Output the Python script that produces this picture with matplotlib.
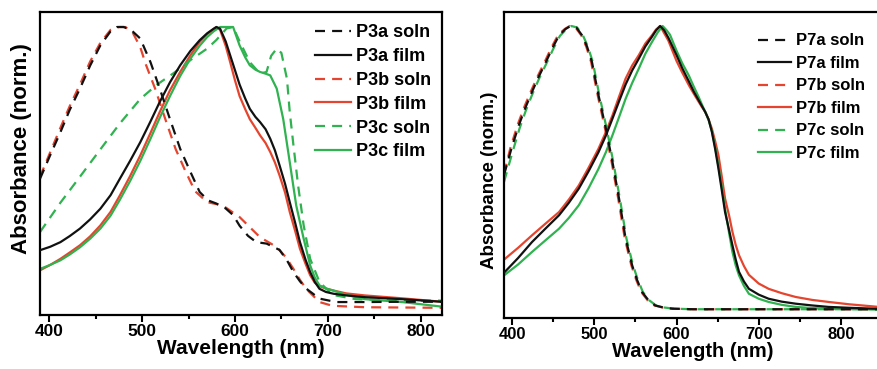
import matplotlib
matplotlib.use("Agg")
import matplotlib.pyplot as plt
from matplotlib.ticker import MultipleLocator

plt.rcParams['font.family'] = ['Liberation Sans', 'DejaVu Sans']
plt.rcParams['font.weight'] = 'bold'

BLACK = '#111111'
RED = '#e5452e'
GREEN = '#2fb24f'

# ---- left panel: P3 series (wavelength nm, normalized absorbance)
p3a_soln_nm = [390, 401, 412, 422, 433, 444, 455, 466, 473, 480, 488, 498, 509, 519, 530,
               541, 552, 562, 571, 580, 590, 598, 605, 614, 623, 634, 648, 656, 663, 670,
               677, 691, 709, 740, 780, 823]
p3a_soln = [0.473, 0.555, 0.635, 0.712, 0.786, 0.866, 0.936, 0.985, 1.0, 1.0, 0.99, 0.96,
            0.878, 0.786, 0.68, 0.577, 0.497, 0.427, 0.398, 0.387, 0.37, 0.347, 0.31,
            0.275, 0.253, 0.248, 0.226, 0.19, 0.149, 0.117, 0.091, 0.057, 0.045, 0.045,
            0.046, 0.046]

p3b_soln_nm = [390, 401, 412, 422, 433, 444, 455, 466, 475, 482, 490, 498, 504, 514, 525,
               536, 547, 557, 570, 587, 605, 627, 645, 655, 663, 670, 677, 691, 705, 740, 823]
p3b_soln = [0.48, 0.565, 0.65, 0.725, 0.80, 0.88, 0.945, 0.99, 1.0, 1.0, 0.98, 0.93, 0.87,
            0.786, 0.68, 0.577, 0.497, 0.43, 0.392, 0.38, 0.34, 0.27, 0.236, 0.2, 0.16,
            0.122, 0.09, 0.045, 0.032, 0.027, 0.025]

p3c_soln_nm = [390, 412, 433, 455, 476, 498, 516, 534, 552, 570, 580, 591, 598, 605, 616,
               627, 634, 639, 645, 650, 656, 659, 663, 668, 674, 681, 691, 705, 730, 780, 823]
p3c_soln = [0.288, 0.39, 0.48, 0.575, 0.665, 0.75, 0.80, 0.84, 0.885, 0.925, 0.955, 0.995,
            1.0, 0.95, 0.878, 0.838, 0.844, 0.90, 0.925, 0.91, 0.82, 0.705, 0.589, 0.45,
            0.311, 0.195, 0.115, 0.07, 0.055, 0.05, 0.05]

p3a_film_nm = [390, 401, 412, 422, 433, 444, 455, 466, 476, 487, 498, 509, 519, 530, 541,
               552, 562, 570, 577, 580, 584, 590, 595, 600, 605, 611, 616, 622, 627, 633,
               638, 643, 648, 654, 659, 665, 670, 676, 681, 686, 691, 698, 706, 720, 740,
               780, 823]
p3a_film = [0.225, 0.237, 0.253, 0.274, 0.30, 0.332, 0.369, 0.416, 0.473, 0.535, 0.60,
            0.672, 0.74, 0.808, 0.867, 0.917, 0.954, 0.978, 0.994, 1.0, 0.994, 0.95, 0.90,
            0.85, 0.80, 0.752, 0.716, 0.688, 0.67, 0.645, 0.612, 0.572, 0.52, 0.455, 0.392,
            0.318, 0.253, 0.192, 0.149, 0.115, 0.091, 0.08, 0.074, 0.068, 0.062, 0.055,
            0.046]

p3b_film_nm = [390, 401, 412, 422, 433, 444, 455, 466, 476, 487, 498, 509, 519, 530, 541,
               552, 562, 570, 576, 580, 584, 590, 595, 600, 605, 611, 616, 622, 627, 633,
               638, 643, 648, 654, 659, 665, 670, 676, 681, 686, 691, 698, 706, 720, 740,
               780, 823]
p3b_film = [0.155, 0.174, 0.195, 0.217, 0.242, 0.273, 0.311, 0.358, 0.415, 0.482, 0.554,
            0.632, 0.705, 0.78, 0.844, 0.902, 0.948, 0.975, 0.99, 1.0, 0.99, 0.935, 0.876,
            0.815, 0.76, 0.715, 0.68, 0.65, 0.624, 0.597, 0.566, 0.53, 0.485, 0.425, 0.358,
            0.29, 0.23, 0.178, 0.138, 0.112, 0.10, 0.092, 0.085, 0.075, 0.068, 0.058,
            0.046]

p3c_film_nm = [390, 401, 412, 422, 433, 444, 455, 466, 476, 487, 498, 509, 519, 530, 541,
               552, 562, 570, 577, 584, 591, 598, 605, 611, 616, 622, 627, 633, 638, 645,
               652, 659, 666, 674, 681, 686, 691, 698, 706, 720, 740, 780, 823]
p3c_film = [0.16, 0.174, 0.19, 0.21, 0.235, 0.265, 0.30, 0.345, 0.40, 0.465, 0.535, 0.612,
            0.685, 0.76, 0.83, 0.89, 0.935, 0.965, 0.985, 1.0, 1.0, 1.0, 0.936, 0.895,
            0.867, 0.852, 0.844, 0.838, 0.832, 0.786, 0.68, 0.531, 0.38, 0.265, 0.172,
            0.13, 0.103, 0.092, 0.085, 0.07, 0.055, 0.045, 0.029]

# ---- right panel: P7 series
p7a_soln_nm = [390, 399, 408, 416, 424, 432, 441, 449, 457, 465, 471, 478, 485, 491, 497,
               505, 514, 522, 530, 538, 546, 552, 558, 566, 574, 584, 595, 620, 700, 850]
p7a_soln = [0.49, 0.58, 0.66, 0.72, 0.774, 0.825, 0.877, 0.925, 0.968, 0.99, 1.0, 0.995,
            0.968, 0.93, 0.877, 0.763, 0.648, 0.534, 0.409, 0.272, 0.18, 0.13, 0.089,
            0.06, 0.043, 0.036, 0.032, 0.03, 0.03, 0.03]

p7b_soln_nm = [390, 398, 407, 415, 423, 431, 440, 448, 456, 464, 470, 477, 484, 490, 496,
               504, 513, 521, 529, 537, 545, 551, 557, 565, 573, 583, 594, 620, 700, 850]
p7b_soln = [0.495, 0.585, 0.665, 0.725, 0.778, 0.828, 0.88, 0.928, 0.97, 0.99, 1.0, 0.995,
            0.968, 0.93, 0.877, 0.763, 0.648, 0.534, 0.409, 0.272, 0.18, 0.13, 0.089,
            0.06, 0.043, 0.036, 0.032, 0.03, 0.03, 0.03]

p7c_soln_nm = [390, 400, 409, 417, 425, 433, 442, 450, 458, 466, 472, 479, 486, 492, 498,
               506, 515, 523, 531, 539, 547, 553, 559, 567, 575, 585, 596, 620, 700, 850]
p7c_soln = [0.466, 0.565, 0.65, 0.714, 0.77, 0.822, 0.874, 0.922, 0.966, 0.99, 1.0, 0.995,
            0.968, 0.93, 0.877, 0.763, 0.648, 0.534, 0.409, 0.272, 0.18, 0.13, 0.089,
            0.06, 0.043, 0.036, 0.032, 0.03, 0.03, 0.03]

p7_film_nm = [390, 407, 424, 440, 457, 469, 481, 493, 505, 514, 522, 530, 538, 546, 554,
              562, 570, 575, 580, 585, 590, 600, 607, 615, 621, 627, 631, 635, 639, 643,
              647, 651, 655, 659, 664, 668, 672, 676, 682, 688, 700, 712, 728, 745, 765,
              785, 810, 850]
p7a_film = [0.155, 0.205, 0.26, 0.305, 0.352, 0.395, 0.443, 0.503, 0.568, 0.625, 0.683,
            0.742, 0.80, 0.848, 0.888, 0.93, 0.963, 0.985, 1.0, 0.985, 0.96, 0.90, 0.855,
            0.81, 0.775, 0.745, 0.725, 0.705, 0.68, 0.637, 0.578, 0.511, 0.438, 0.363,
            0.3, 0.249, 0.2, 0.158, 0.125, 0.10, 0.08, 0.066, 0.056, 0.049, 0.043, 0.038,
            0.035, 0.031]
p7b_film = [0.20, 0.24, 0.283, 0.322, 0.363, 0.406, 0.454, 0.515, 0.58, 0.637, 0.694,
            0.758, 0.82, 0.865, 0.90, 0.94, 0.968, 0.988, 1.0, 0.975, 0.95, 0.88, 0.84,
            0.797, 0.768, 0.74, 0.722, 0.705, 0.68, 0.648, 0.605, 0.557, 0.485, 0.409,
            0.35, 0.295, 0.25, 0.215, 0.178, 0.148, 0.118, 0.10, 0.085, 0.072, 0.062,
            0.055, 0.047, 0.037]
p7c_film_nm = [390, 407, 424, 440, 457, 469, 481, 493, 505, 514, 522, 530, 538, 546, 554,
               562, 570, 577, 583, 588, 592, 600, 607, 615, 621, 627, 631, 635, 639, 643,
               647, 651, 655, 659, 664, 668, 672, 676, 682, 688, 700, 712, 728, 745, 765,
               785, 810, 850]
p7c_film = [0.146, 0.183, 0.226, 0.265, 0.306, 0.343, 0.386, 0.445, 0.511, 0.568, 0.626,
            0.688, 0.751, 0.805, 0.854, 0.905, 0.945, 0.978, 1.0, 0.985, 0.97, 0.915,
            0.872, 0.83, 0.792, 0.756, 0.73, 0.705, 0.678, 0.64, 0.585, 0.52, 0.45, 0.374,
            0.29, 0.226, 0.18, 0.146, 0.11, 0.083, 0.066, 0.055, 0.045, 0.038, 0.034,
            0.032, 0.031, 0.029]

DASH = (4.5, 3.2)
LW = 1.6

fig = plt.figure(figsize=(8.77, 3.69), dpi=100)
ax1 = fig.add_axes([0.0456, 0.1463, 0.4584, 0.8211])
ax2 = fig.add_axes([0.5747, 0.1382, 0.4310, 0.8293])


def draw(ax, series, xlim, ylim, tick_fs, label_fs, ylab_fs, leg_fs, leg_anchor,
         leg_space, ylab_pos):
    for nm, val, col, dashed, lab, z in series:
        if dashed:
            ax.plot(nm, val, color=col, lw=LW, dashes=DASH, label=lab, zorder=z)
        else:
            ax.plot(nm, val, color=col, lw=LW, label=lab, zorder=z)
    ax.set_xlim(*xlim)
    ax.set_ylim(*ylim)
    ax.set_yticks([])
    ax.xaxis.set_major_locator(MultipleLocator(100))
    ax.xaxis.set_minor_locator(MultipleLocator(50))
    ax.tick_params(axis='x', which='major', direction='out', length=5, width=1.5,
                   labelsize=tick_fs, pad=1.5)
    ax.tick_params(axis='x', which='minor', direction='out', length=3, width=1.5)
    for sp in ax.spines.values():
        sp.set_linewidth(1.6)
    ax.set_xlabel('Wavelength (nm)', fontsize=label_fs, fontweight='bold', labelpad=0)
    ax.set_ylabel('Absorbance (norm.)', fontsize=ylab_fs, fontweight='bold')
    ax.yaxis.set_label_coords(*ylab_pos)
    h, l = ax.get_legend_handles_labels()
    ax.legend(h, l, loc='upper left', bbox_to_anchor=leg_anchor, frameon=False,
              fontsize=leg_fs, handlelength=2.0, handletextpad=0.3,
              labelspacing=leg_space, borderpad=0, borderaxespad=0)


draw(ax1,
     [(p3a_soln_nm, p3a_soln, BLACK, True, 'P3a soln', 3),
      (p3a_film_nm, p3a_film, BLACK, False, 'P3a film', 3),
      (p3b_soln_nm, p3b_soln, RED, True, 'P3b soln', 2),
      (p3b_film_nm, p3b_film, RED, False, 'P3b film', 2),
      (p3c_soln_nm, p3c_soln, GREEN, True, 'P3c soln', 2),
      (p3c_film_nm, p3c_film, GREEN, False, 'P3c film', 2)],
     (390, 823), (0, 1.052), 12.5, 15, 16, 13, (0.684, 0.96), 0.38, (-0.02, 0.551))

draw(ax2,
     [(p7a_soln_nm, p7a_soln, BLACK, True, 'P7a soln', 3),
      (p7_film_nm, p7a_film, BLACK, False, 'P7a film', 3),
      (p7b_soln_nm, p7b_soln, RED, True, 'P7b soln', 2),
      (p7_film_nm, p7b_film, RED, False, 'P7b film', 2),
      (p7c_soln_nm, p7c_soln, GREEN, True, 'P7c soln', 2),
      (p7c_film_nm, p7c_film, GREEN, False, 'P7c film', 2)],
     (390, 850), (0, 1.048), 12, 14.5, 13.5, 12, (0.672, 0.93), 0.45, (-0.016, 0.45))

fig.savefig('out.png', dpi=100)
